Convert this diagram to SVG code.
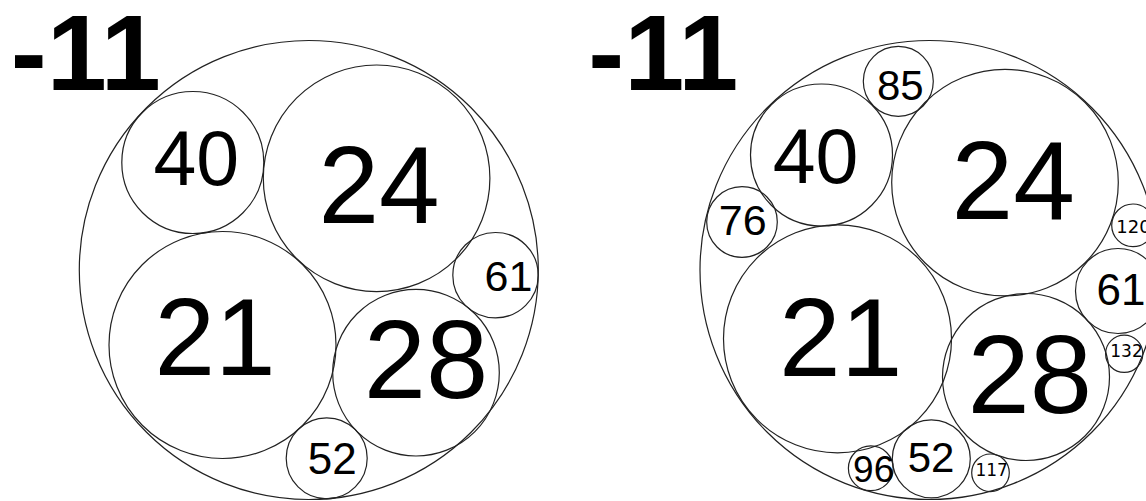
<svg xmlns="http://www.w3.org/2000/svg" width="1146" height="501" viewBox="0 0 1146 501">
<style>
  .c { fill: none; stroke: #222; stroke-width: 1.2; }
  .t { font-family: "Liberation Sans", Arial, sans-serif; fill: #000; text-anchor: middle; }
  .s { font-family: "DejaVu Sans", sans-serif; fill: #000; text-anchor: middle; }
  .title { font-family: "Liberation Sans", Arial, sans-serif; font-weight: bold; font-size: 108px; fill: #000; }
</style>
<rect width="1146" height="501" fill="#fff"/>
<g id="left-panel">
  <text id="left-title" class="title" x="10.7" y="89.5">-11</text>
  <g id="L-outer"><circle class="c" cx="308.8" cy="270" r="229.5"/></g>
  <g id="L-40"><circle class="c" cx="192.8" cy="162.5" r="71"/><text class="t" x="196.3" y="185" font-size="77">40</text></g>
  <g id="L-24"><circle class="c" cx="376.6" cy="178.3" r="113.3"/><text class="t" x="379" y="223.3" font-size="109">24</text></g>
  <g id="L-21"><circle class="c" cx="222.5" cy="345" r="113.5"/><text class="t" x="215" y="375" font-size="109">21</text></g>
  <g id="L-28"><circle class="c" cx="416" cy="372.7" r="83.3"/><text class="t" x="426" y="398.3" font-size="112">28</text></g>
  <g id="L-61"><circle class="c" cx="495.5" cy="275.2" r="42.7"/><text class="t" x="508.5" y="290.7" font-size="43">61</text></g>
  <g id="L-52"><circle class="c" cx="326.7" cy="458.3" r="40.5"/><text class="t" x="332.2" y="474" font-size="44">52</text></g>
</g>
<g id="right-panel">
  <text id="right-title" class="title" x="588.3" y="89.5">-11</text>
  <g id="R-outer"><circle class="c" cx="929.5" cy="270" r="229.5"/></g>
  <g id="R-85"><circle class="c" cx="898.3" cy="81.3" r="35"/><text class="t" x="900.3" y="100" font-size="42">85</text></g>
  <g id="R-40"><circle class="c" cx="821.5" cy="155" r="71"/><text class="t" x="815.5" y="183.3" font-size="77">40</text></g>
  <g id="R-24"><circle class="c" cx="1005" cy="182.6" r="113.3"/><text class="t" x="1013.3" y="219.3" font-size="111">24</text></g>
  <g id="R-76"><circle class="c" cx="742" cy="222" r="35.3"/><text class="t" x="742.7" y="235" font-size="43">76</text></g>
  <g id="R-21"><circle class="c" cx="837.5" cy="338.8" r="114"/><text class="t" x="840.7" y="376" font-size="111">21</text></g>
  <g id="R-28"><circle class="c" cx="1026" cy="377" r="83.5"/><text class="t" x="1029.7" y="413.3" font-size="112">28</text></g>
  <g id="R-61"><circle class="c" cx="1118" cy="291" r="42.5"/><text class="t" x="1121" y="305" font-size="44">61</text></g>
  <g id="R-120"><circle class="c" cx="1133" cy="225.3" r="21.3"/><text class="s" x="1133.5" y="233.3" font-size="18">120</text></g>
  <g id="R-132"><circle class="c" cx="1124.2" cy="353.8" r="18.6"/><text class="s" x="1126.5" y="357.3" font-size="17">132</text></g>
  <g id="R-117"><circle class="c" cx="990.5" cy="472.8" r="18.8"/><text class="s" x="991.7" y="475.7" font-size="17">117</text></g>
  <g id="R-96"><circle class="c" cx="870.8" cy="468.3" r="22.4"/><text class="t" x="873.7" y="481.7" font-size="37">96</text></g>
  <g id="R-52"><circle class="c" cx="931.3" cy="458.8" r="39"/><text class="t" x="931" y="472" font-size="42">52</text></g>
</g>
<g id="connectors"/>
</svg>
